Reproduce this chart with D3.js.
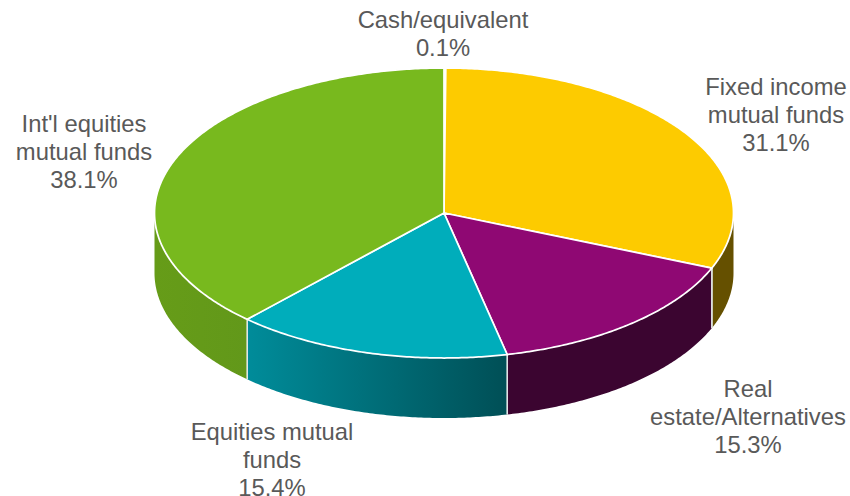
<!DOCTYPE html>
<html>
<head>
<meta charset="utf-8">
<script src="https://cdn.jsdelivr.net/npm/d3@7"></script>
<style>
html, body { margin: 0; padding: 0; background: #fff; }
svg { display: block; }
text { font-family: "Liberation Sans", Arial, sans-serif; font-size: 23.8px; fill: #595959; text-anchor: middle; }
</style>
</head>
<body>
<script>
var w = 850,
    h = 496;

// clockwise from 12 o'clock
var categories = ['Cash/equivalent', 'Fixed income mutual funds', 'Real estate/Alternatives', 'Equities mutual funds', "Int'l equities mutual funds"];
var shares = [0.1, 31.1, 15.3, 15.4, 38.1];
var topColors = ['#f6f6f6', '#fdcb00', '#8f0873', '#00adbb', '#78b91e'];
var wallColors = [['#ccc', '#ccc'], ['#655000', '#655000'], ['#3b0530', '#3b0530'], ['#008c9a', '#004f56'], ['#669c18', '#62981a']];

var labelLines = [
    ['Cash/equivalent', '0.1%'],
    ['Fixed income', 'mutual funds', '31.1%'],
    ['Real', 'estate/Alternatives', '15.3%'],
    ['Equities mutual', 'funds', '15.4%'],
    ["Int'l equities", 'mutual funds', '38.1%']
];
var labelX = [443, 776, 748, 272, 84],
    labelY = [28, 94.5, 397, 439.5, 131.5],
    lineH = 28;

var depth = 60; // height of the pie side

var x = d3.scaleLinear().domain([-1, 1]).range([154.5, 733.5]),
    y = d3.scaleLinear().domain([-1, 1]).range([68, 358]);

function px(a) { return x(Math.sin(a)); }
function py(a) { return y(-Math.cos(a)); }
function steps(a0, a1) {
    var n = Math.max(2, Math.ceil((a1 - a0) / 0.01)), out = [];
    for (var i = 0; i <= n; i++) out.push(a0 + (a1 - a0) * i / n);
    return out;
}

var svg = d3.select('body').append('svg')
    .attr('width', w)
    .attr('height', h);

var slices = d3.pie().sort(null).startAngle(0).endAngle(2 * Math.PI)(shares);

// side gradients, one per slice
var defs = svg.append('defs');
slices.forEach(function(d, i) {
    var a0 = Math.max(d.startAngle, Math.PI / 2),
        a1 = Math.min(d.endAngle, 3 * Math.PI / 2);
    if (a1 <= a0) return;
    var g = defs.append('linearGradient')
        .attr('id', 'wall' + i)
        .attr('gradientUnits', 'userSpaceOnUse')
        .attr('x1', px(a0)).attr('y1', 0)
        .attr('x2', px(a1)).attr('y2', 0);
    g.append('stop').attr('offset', 0).attr('stop-color', wallColors[i][1]);
    g.append('stop').attr('offset', 1).attr('stop-color', wallColors[i][0]);
});

var wall = d3.area()
    .x(px)
    .y0(py)
    .y1(function(a) { return py(a) + depth; });

// only the front half of the side shows
var walls = svg.append('g');
slices.forEach(function(d, i) {
    var a0 = Math.max(d.startAngle, Math.PI / 2),
        a1 = Math.min(d.endAngle, 3 * Math.PI / 2);
    if (a1 <= a0) return;
    walls.append('path')
        .attr('d', wall(steps(a0, a1)))
        .attr('fill', 'url(#wall' + i + ')');
    // seams between sides
    [a0, a1].forEach(function(a) {
        if (a == Math.PI / 2 || a == 3 * Math.PI / 2) return;
        walls.append('line')
            .attr('x1', px(a)).attr('y1', py(a))
            .attr('x2', px(a)).attr('y2', py(a) + depth)
            .attr('stroke', '#e4e8e8')
            .attr('stroke-width', 1.5);
    });
});

var wedge = d3.line()
    .x(function(p) { return p[0]; })
    .y(function(p) { return p[1]; });

svg.append('g').selectAll('path')
    .data(slices)
    .enter()
    .append('path')
    .attr('d', function(d) {
        var pts = [[x(0), y(0)]];
        steps(d.startAngle, d.endAngle).forEach(function(a) { pts.push([px(a), py(a)]); });
        return wedge(pts) + 'Z';
    })
    .attr('fill', function(d, i) { return topColors[i]; })
    .attr('stroke', '#fff')
    .attr('stroke-width', 1.75)
    .attr('stroke-linejoin', 'round');

svg.append('g').selectAll('text')
    .data(labelLines)
    .enter()
    .append('text')
    .attr('aria-label', function(d, i) { return categories[i]; })
    .attr('x', function(d, i) { return labelX[i]; })
    .attr('y', function(d, i) { return labelY[i]; })
    .each(function(d, i) {
        d3.select(this).selectAll('tspan')
            .data(d)
            .enter()
            .append('tspan')
            .attr('x', labelX[i])
            .attr('dy', function(t, j) { return j ? lineH : 0; })
            .text(function(t) { return t; });
    });
</script>
</body>
</html>
